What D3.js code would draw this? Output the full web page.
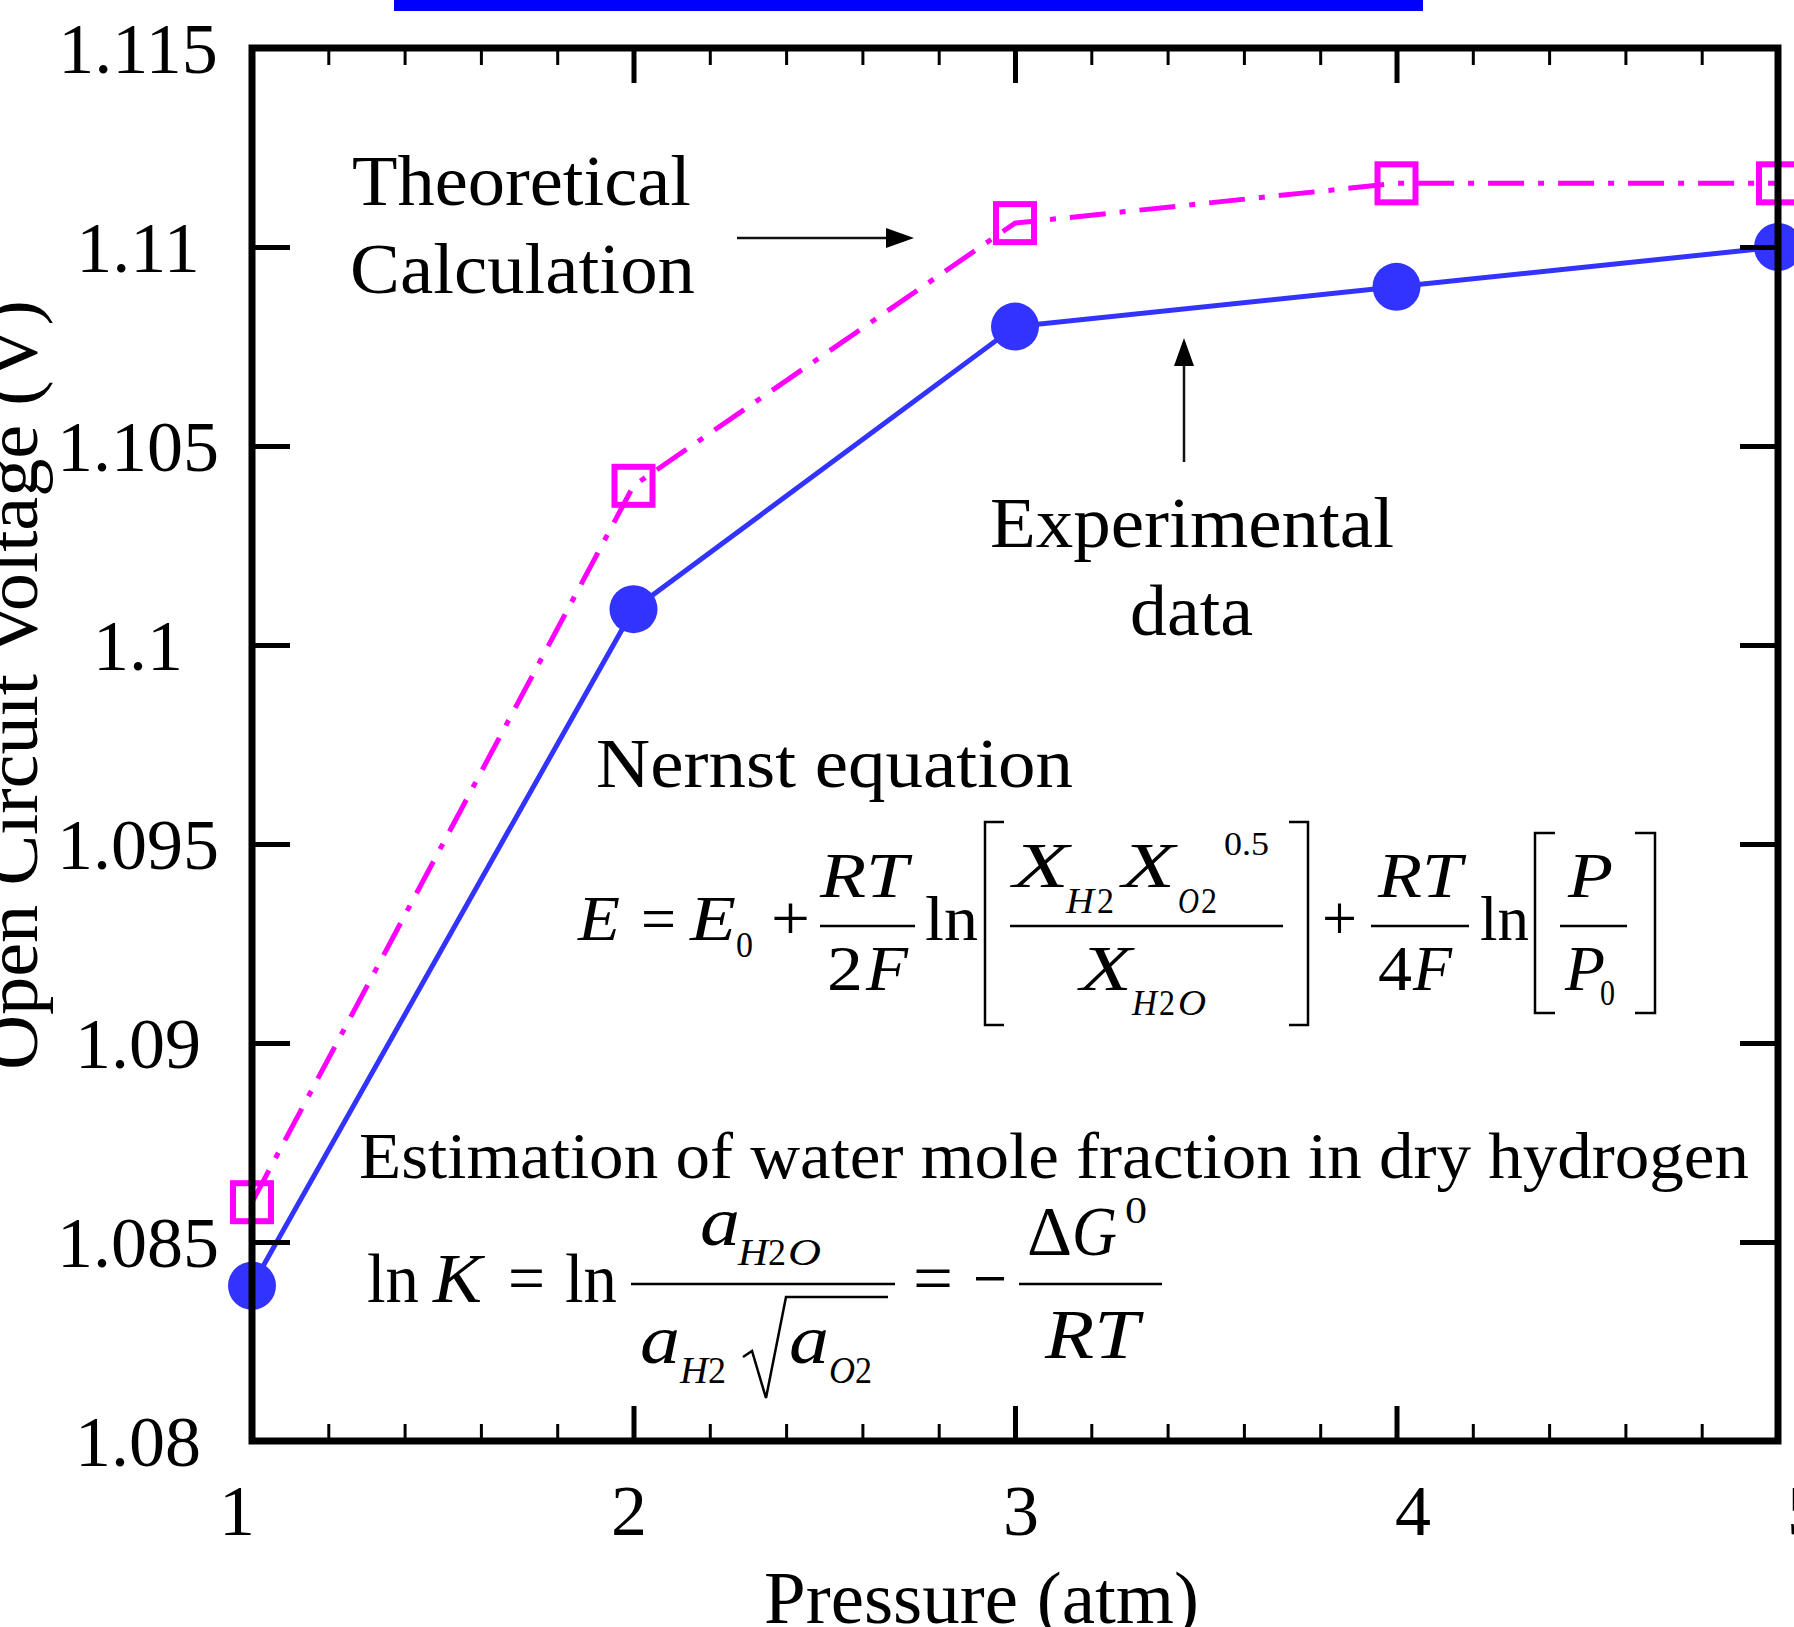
<!DOCTYPE html>
<html>
<head>
<meta charset="utf-8">
<script src="https://cdn.jsdelivr.net/npm/d3@7"></script>
<style>
  body { margin: 0; background: #fff; }
  svg { display: block; font-family: "Liberation Serif", "Times New Roman", serif; }
</style>
</head>
<body>
<div id="chart"></div>
<script>
// pressure (atm)
const pressure = [1, 2, 3, 4, 5]
// open circuit voltage (V)
const experimental = [1.0839, 1.1009, 1.1080, 1.1090, 1.1100]
const theoretical = [1.0860, 1.1040, 1.1106, 1.1116, 1.1116]
const xTicks = [1, 2, 3, 4, 5]
const xTickLabels = ['1', '2', '3', '4', '5']
const yTicks = [1.08, 1.085, 1.09, 1.095, 1.1, 1.105, 1.11, 1.115]
const yTickLabels = ['1.08', '1.085', '1.09', '1.095', '1.1', '1.105', '1.11', '1.115']

const width = 1794
const height = 1627
const plotLeft = 252, plotRight = 1778, plotTop = 48, plotBottom = 1441

const svg = d3.select('#chart').append('svg')
    .attr('width', width).attr('height', height)

svg.append('rect').attr('width', width).attr('height', height).attr('fill', '#fff')

const x = d3.scaleLinear().domain([1, 5]).range([plotLeft, plotRight])
const y = d3.scaleLinear().domain([1.08, 1.115]).range([plotBottom, plotTop])
// the tick numbers sit on a slightly wider spacing than the ticks
const xLabel = d3.scaleLinear().domain([1, 5]).range([237, 1805])

// cut-off title bar at the top
svg.append('rect').attr('x', 394).attr('y', 0).attr('width', 1029).attr('height', 11).attr('fill', '#0000ff')

// data
const pts = pressure.map((p, i) => ({ p, e: experimental[i], t: theoretical[i] }))

svg.append('path').datum(pts)
    .attr('fill', 'none').attr('stroke', '#ff00ff').attr('stroke-width', 5)
    .attr('stroke-dasharray', '36 14 6 14')
    .attr('d', d3.line().x(d => x(d.p)).y(d => y(d.t)))
svg.append('path').datum(pts)
    .attr('fill', 'none').attr('stroke', '#3333ff').attr('stroke-width', 5)
    .attr('d', d3.line().x(d => x(d.p)).y(d => y(d.e)))

svg.selectAll('.sq').data(pts).join('rect').attr('class', 'sq')
    .attr('x', d => x(d.p) - 19).attr('y', d => y(d.t) - 19)
    .attr('width', 38).attr('height', 38)
    .attr('fill', 'none').attr('stroke', '#ff00ff').attr('stroke-width', 6)
svg.selectAll('.dot').data(pts).join('circle').attr('class', 'dot')
    .attr('cx', d => x(d.p)).attr('cy', d => y(d.e)).attr('r', 24)
    .attr('fill', '#3333ff')

// axes, ticks pointing inward
const minor = d3.range(1, 5.001, 0.2).filter(v => Math.abs(v - Math.round(v)) > 1e-6)
function axisG(axis) {
    const g = svg.append('g').call(axis)
    g.select('.domain').remove()
    g.selectAll('text').remove()
    return g
}
axisG(d3.axisBottom(x).tickValues(xTicks).tickSizeInner(-35).tickSizeOuter(0))
    .attr('transform', `translate(0,${plotBottom})`).selectAll('line').attr('stroke-width', 5)
axisG(d3.axisBottom(x).tickValues(minor).tickSizeInner(-17).tickSizeOuter(0))
    .attr('transform', `translate(0,${plotBottom})`).selectAll('line').attr('stroke-width', 3)
axisG(d3.axisTop(x).tickValues(xTicks).tickSizeInner(-35).tickSizeOuter(0))
    .attr('transform', `translate(0,${plotTop})`).selectAll('line').attr('stroke-width', 5)
axisG(d3.axisTop(x).tickValues(minor).tickSizeInner(-17).tickSizeOuter(0))
    .attr('transform', `translate(0,${plotTop})`).selectAll('line').attr('stroke-width', 3)
axisG(d3.axisLeft(y).tickValues(yTicks).tickSizeInner(-38).tickSizeOuter(0))
    .attr('transform', `translate(${plotLeft},0)`).selectAll('line').attr('stroke-width', 5)
axisG(d3.axisRight(y).tickValues(yTicks).tickSizeInner(-38).tickSizeOuter(0))
    .attr('transform', `translate(${plotRight},0)`).selectAll('line').attr('stroke-width', 5)

svg.append('rect').attr('x', plotLeft).attr('y', plotTop)
    .attr('width', plotRight - plotLeft).attr('height', plotBottom - plotTop)
    .attr('fill', 'none').attr('stroke', '#000').attr('stroke-width', 7)

// tick labels
svg.selectAll('.ylab').data(yTicks).join('text').attr('class', 'ylab')
    .attr('x', 138).attr('y', d => y(d) + 25)
    .attr('text-anchor', 'middle').attr('font-size', 72)
    .text((d, i) => yTickLabels[i])
svg.selectAll('.xlab').data(xTicks).join('text').attr('class', 'xlab')
    .attr('x', d => xLabel(d)).attr('y', 1535)
    .attr('text-anchor', 'middle').attr('font-size', 72)
    .text((d, i) => xTickLabels[i])

// axis titles
svg.append('text').attr('transform', 'translate(37,685) rotate(-90)')
    .attr('text-anchor', 'middle').attr('font-size', 75)
    .attr('textLength', 770).attr('lengthAdjust', 'spacingAndGlyphs')
    .text('Open Circuit Voltage (V)')
svg.append('text').attr('x', 764).attr('y', 1623).attr('font-size', 75)
    .attr('textLength', 435).attr('lengthAdjust', 'spacingAndGlyphs')
    .text('Pressure (atm)')

// helpers for annotation text
function put(s, px, py, size, w, italic) {
    const t = svg.append('text').attr('x', px).attr('y', py).attr('font-size', size)
        .attr('fill', '#000').text(s)
    if (italic) t.attr('font-style', 'italic')
    if (w) t.attr('textLength', w).attr('lengthAdjust', 'spacingAndGlyphs')
    return t
}
function bar(x1, x2, py) {
    svg.append('line').attr('x1', x1).attr('x2', x2).attr('y1', py).attr('y2', py)
        .attr('stroke', '#000').attr('stroke-width', 2.5)
}
function bracket(x1, x2, y1, y2) {
    svg.append('path').attr('d', `M${x2},${y1}H${x1}V${y2}H${x2}`)
        .attr('fill', 'none').attr('stroke', '#000').attr('stroke-width', 2.5)
}
function arrow(x1, y1, x2, y2) {
    const a = Math.atan2(y2 - y1, x2 - x1)
    const hl = 28, hw = 10
    const bx = x2 - hl * Math.cos(a), by = y2 - hl * Math.sin(a)
    svg.append('line').attr('x1', x1).attr('y1', y1).attr('x2', bx).attr('y2', by)
        .attr('stroke', '#111').attr('stroke-width', 2.5)
    svg.append('path')
        .attr('d', `M${x2},${y2}L${bx - hw * Math.sin(a)},${by + hw * Math.cos(a)}L${bx + hw * Math.sin(a)},${by - hw * Math.cos(a)}Z`)
        .attr('fill', '#000')
}

put('Theoretical', 352, 205, 72, 339)
put('Calculation', 350, 293, 72, 345)
arrow(737, 238, 914, 238)
put('Experimental', 990, 547, 72, 404)
put('data', 1130, 635, 72, 123)
arrow(1184, 462, 1184, 338)
put('Nernst equation', 596, 787, 70, 477)

// Nernst equation
put('E', 578, 940, 64, 42, true)
put('=', 641, 940, 64, 35)
put('E', 690, 940, 64, 46, true)
put('0', 736, 957, 36, 17)
put('+', 771, 940, 64, 39)
put('RT', 820, 897, 64, 88, true)
bar(820, 915, 926)
put('2', 827, 990, 64, 36)
put('F', 866, 990, 64, 42, true)
put('ln', 925, 940, 64, 53)
bracket(985, 1004, 822, 1025)
put('X', 1013, 887, 64, 56, true)
put('H', 1066, 913, 36, 28, true)
put('2', 1097, 913, 36, 17)
put('X', 1122, 887, 64, 53, true)
put('O', 1178, 913, 36, 21, true)
put('2', 1201, 913, 36, 16)
put('0.5', 1224, 855, 34, 45)
bar(1010, 1283, 926)
put('X', 1080, 990, 64, 52, true)
put('H', 1132, 1015, 36, 25, true)
put('2', 1159, 1015, 36, 16)
put('O', 1178, 1015, 36, 28, true)
bracket(1308, 1289, 822, 1025)
put('+', 1322, 940, 64, 35)
put('RT', 1378, 897, 64, 84, true)
bar(1371, 1469, 926)
put('4', 1378, 990, 64, 34)
put('F', 1413, 990, 64, 39, true)
put('ln', 1480, 940, 64, 49)
bracket(1535, 1555, 833, 1013)
put('P', 1568, 897, 64, 45, true)
bar(1560, 1627, 926)
put('P', 1565, 990, 64, 40, true)
put('0', 1600, 1005, 36, 15)
bracket(1655, 1635, 833, 1013)

// water mole fraction
put('Estimation of water mole fraction in dry hydrogen', 359, 1178, 66, 1390)
put('ln', 367, 1302, 70, 52)
put('K', 433, 1302, 70, 49, true)
put('=', 508, 1302, 70, 37)
put('ln', 565, 1302, 70, 52)
bar(631, 895, 1284)
put('a', 700, 1245, 70, 40, true)
put('H', 738, 1265, 38, 30, true)
put('2', 768, 1265, 38, 18)
put('O', 788, 1265, 38, 33, true)
put('a', 640, 1363, 70, 40, true)
put('H', 680, 1383, 38, 28, true)
put('2', 708, 1383, 38, 18)
svg.append('path').attr('d', 'M743,1357L752,1351L766,1398L786,1297H888')
    .attr('fill', 'none').attr('stroke', '#000').attr('stroke-width', 2.5)
put('a', 789, 1363, 70, 40, true)
put('O', 829, 1383, 38, 26, true)
put('2', 855, 1383, 38, 17)
put('=', 913, 1302, 70, 40)
put('\u2212', 973, 1302, 70, 34)
bar(1019, 1162, 1284)
put('\u0394', 1027, 1255, 70, 45)
put('G', 1072, 1255, 70, 45, true)
put('0', 1125, 1223, 38, 22)
put('RT', 1045, 1358, 70, 94, true)
</script>
</body>
</html>
